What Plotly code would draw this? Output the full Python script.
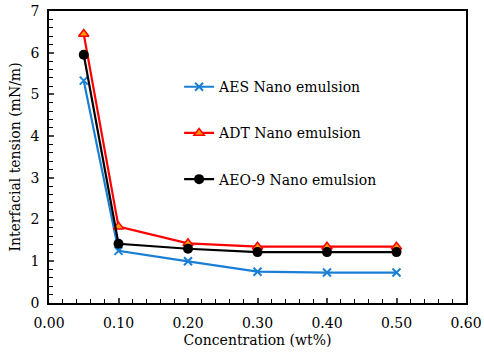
import plotly.graph_objects as go

conc = [0.05, 0.10, 0.20, 0.30, 0.40, 0.50]
aes = [5.33, 1.25, 1.00, 0.75, 0.73, 0.73]
adt = [6.45, 1.83, 1.43, 1.35, 1.35, 1.35]
aeo9 = [5.95, 1.42, 1.30, 1.22, 1.22, 1.22]

x_ticks = [0.0, 0.1, 0.2, 0.3, 0.4, 0.5, 0.6]
x_labels = ["0.00", "0.10", "0.20", "0.30", "0.40", "0.50", "0.60"]

FONT = "DejaVu Serif"

fig = go.Figure()
fig.add_trace(go.Scatter(x=conc, y=aes, mode="lines+markers", name="AES Nano emulsion",
                         legendgroup="a",
                         line=dict(color="#1a7fd4", width=2.2),
                         marker=dict(symbol="x-thin", size=8, line=dict(color="#1a7fd4", width=2))))
fig.add_trace(go.Scatter(x=conc, y=adt, mode="lines+markers", name="ADT Nano emulsion",
                         legendgroup="b",
                         line=dict(color="#ff0000", width=2.2),
                         marker=dict(symbol="triangle-up", size=9, color="#ff9900",
                                     line=dict(color="#ff0000", width=1.5))))
fig.add_trace(go.Scatter(x=conc, y=aeo9, mode="lines+markers", name="AEO-9 Nano emulsion",
                         legendgroup="c",
                         line=dict(color="#000000", width=2.2),
                         marker=dict(symbol="circle", size=10, color="#000000")))

fig.update_layout(
    width=484, height=358,
    margin=dict(l=49, r=18, t=11, b=55),
    paper_bgcolor="white", plot_bgcolor="white",
    font=dict(family=FONT, size=14, color="black"),
    showlegend=True,
    legend=dict(x=0.312, y=0.794, xanchor="left", yanchor="top",
                bgcolor="rgba(0,0,0,0)", tracegroupgap=25,
                traceorder="grouped", font=dict(family=FONT, size=14)),
    xaxis=dict(range=[0, 0.6], tickvals=x_ticks, ticktext=x_labels, automargin=False,
               showgrid=False, zeroline=False, showline=True, linecolor="black",
               linewidth=1.5, mirror=True, ticks="inside", ticklen=5, tickwidth=1.5,
               ticklabelstandoff=6,
               minor=dict(dtick=0.02, ticks="inside", ticklen=4, tickcolor="black", tickwidth=1),
               title=dict(text="Concentration (wt%)", standoff=6, font=dict(size=14)),
               tickfont=dict(size=14)),
    yaxis=dict(range=[0, 7], dtick=1, automargin=False,
               showgrid=False, zeroline=False, showline=True, linecolor="black",
               linewidth=1.5, mirror=True, ticks="inside", ticklen=5, tickwidth=1.5,
               ticklabelstandoff=5,
               minor=dict(dtick=0.2, ticks="inside", ticklen=4, tickcolor="black", tickwidth=1),
               title=dict(text="Interfacial tension (mN/m)", standoff=7, font=dict(size=14)),
               tickfont=dict(size=14)),
)

fig.write_html("out.html", config={"displayModeBar": False},
               post_script="document.body.style.margin='0';document.body.style.overflow='hidden';")
